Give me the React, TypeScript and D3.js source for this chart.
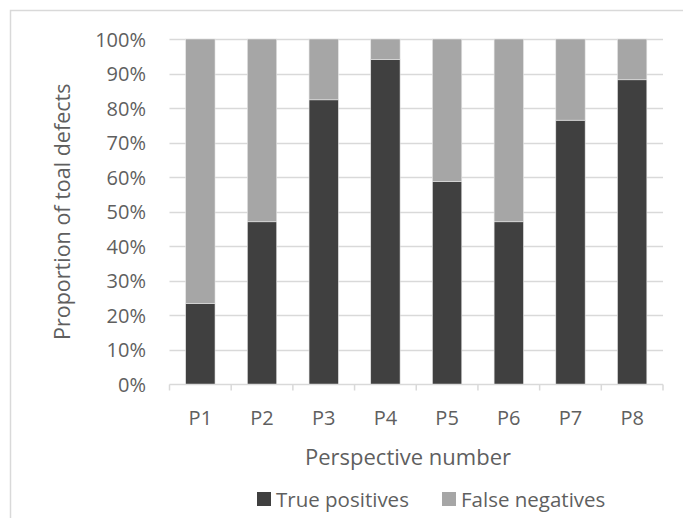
import React from "react";
import * as d3 from "d3";

// Share of total defects found (true positives) per perspective; the rest are false negatives.
const perspectives = ["P1", "P2", "P3", "P4", "P5", "P6", "P7", "P8"];
const truePositives = [23.5, 47.1, 82.4, 94.1, 58.8, 47.1, 76.5, 88.2];
const falseNegatives = truePositives.map((v) => 100 - v);
const yTicks = [0, 10, 20, 30, 40, 50, 60, 70, 80, 90, 100];
const seriesNames = ["True positives", "False negatives"];
const seriesColors = ["#404040", "#a6a6a6"];

const W = 683;
const H = 518;
const plot = { left: 169.5, right: 663, top: 39, bottom: 384.5 };
const FONT = "'Open Sans', 'Noto Sans', sans-serif";
const TEXT = "#5f5f5f";
const GRID = "#d9d9d9";

export default function App() {
  const x = d3
    .scaleBand<string>()
    .domain(perspectives)
    .range([plot.left, plot.right])
    .paddingInner(0.524)
    .paddingOuter(0.262);
  const y = d3.scaleLinear().domain([0, 100]).range([plot.bottom, plot.top]);

  const rows = perspectives.map((p, i) => ({
    p,
    tp: truePositives[i],
    fn: falseNegatives[i],
  }));
  const stacked = d3.stack<any>().keys(["tp", "fn"])(rows as any);

  const step = (plot.right - plot.left) / perspectives.length;
  const boundaries = d3.range(perspectives.length + 1).map((i) => plot.left + i * step);
  const midY = (plot.top + plot.bottom) / 2;

  return (
    <svg
      width={W}
      height={H}
      style={{ position: "absolute", left: 0, top: 0, background: "#fff" }}
      fontFamily={FONT}
    >
      <rect x={0} y={0} width={W} height={H} fill="#fff" />
      {/* chart frame */}
      <rect x={10.5} y={10.5} width={W + 20} height={H + 20} fill="none" stroke={GRID} strokeWidth={1.5} />

      {/* gridlines */}
      {yTicks.slice(1).map((t) => (
        <line
          key={t}
          x1={plot.left}
          x2={plot.right}
          y1={Math.round(y(t)) + 0.5}
          y2={Math.round(y(t)) + 0.5}
          stroke={GRID}
          strokeWidth={1.5}
        />
      ))}

      {/* stacked bars */}
      {stacked.map((layer, li) => (
        <g key={li} fill={seriesColors[li]}>
          {layer.map((d: any, i: number) => (
            <rect
              key={i}
              x={x(perspectives[i])}
              width={x.bandwidth()}
              y={y(d[1])}
              height={y(d[0]) - y(d[1])}
              stroke="#e6e6e6"
              strokeWidth={0.6}
            />
          ))}
        </g>
      ))}

      {/* x axis */}
      <line x1={plot.left} x2={plot.right} y1={plot.bottom} y2={plot.bottom} stroke={GRID} strokeWidth={1.5} />
      {boundaries.map((bx, i) => (
        <line key={i} x1={bx} x2={bx} y1={plot.bottom} y2={plot.bottom + 6} stroke={GRID} strokeWidth={1.5} />
      ))}
      {perspectives.map((p) => (
        <text
          key={p}
          x={(x(p) as number) + x.bandwidth() / 2}
          y={417}
          textAnchor="middle"
          dominantBaseline="central"
          fontSize={20}
          fill={TEXT}
        >
          {p}
        </text>
      ))}

      {/* y tick labels */}
      {yTicks.map((t) => (
        <text
          key={t}
          x={146}
          y={y(t)}
          textAnchor="end"
          dominantBaseline="central"
          fontSize={20}
          fill={TEXT}
        >
          {t}%
        </text>
      ))}

      {/* axis titles */}
      <text x={408} y={456} textAnchor="middle" dominantBaseline="central" fontSize={22} fill={TEXT}>
        Perspective number
      </text>
      <text
        transform={`translate(61,${midY}) rotate(-90)`}
        textAnchor="middle"
        dominantBaseline="central"
        fontSize={21.5}
        fill={TEXT}
      >
        Proportion of toal defects
      </text>

      {/* legend */}
      {seriesNames.map((name, i) => {
        const lx = i === 0 ? 257 : 442;
        return (
          <g key={name}>
            <rect x={lx} y={492} width={14} height={14} fill={seriesColors[i]} />
            <text x={lx + 19} y={499} dominantBaseline="central" fontSize={20.5} fill={TEXT}>
              {name}
            </text>
          </g>
        );
      })}
    </svg>
  );
}
